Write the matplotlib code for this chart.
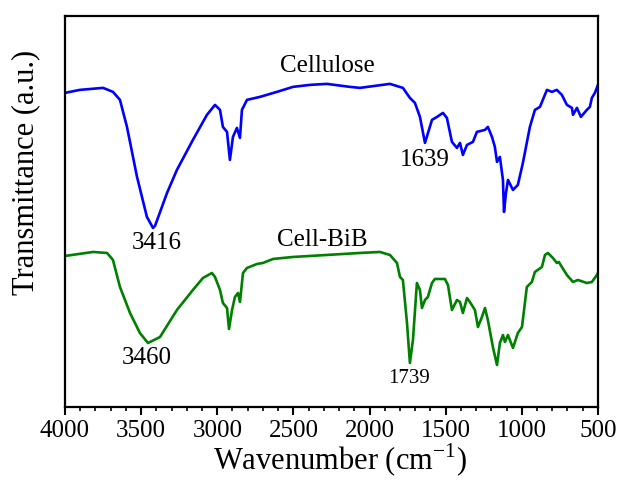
import matplotlib
matplotlib.use("Agg")
import matplotlib.pyplot as plt
import numpy as np

plt.rcParams["font.family"] = ["Liberation Serif", "DejaVu Serif"]
plt.rcParams["mathtext.fontset"] = "custom"
plt.rcParams["mathtext.rm"] = "Liberation Serif"

# FTIR spectra, transmittance in arbitrary units (offset for stacking)
cell_wn = [4000, 3902, 3750, 3685, 3639, 3593, 3527, 3462, 3422, 3409, 3330, 3265,
           3160, 3068, 3015, 2982, 2963, 2936, 2917, 2897, 2871, 2851, 2838, 2805,
           2720, 2608, 2503, 2391, 2280, 2129, 2063, 1866, 1781, 1735, 1702, 1669,
           1636, 1590, 1557, 1518, 1492, 1459, 1426, 1406, 1387, 1360, 1321, 1295,
           1242, 1223, 1196, 1177, 1163, 1144, 1124, 1117, 1104, 1091, 1058, 1026,
           993, 947, 914, 881, 835, 802, 770, 737, 704, 671, 664, 638, 612, 573,
           553, 540, 520, 500]
cell_t = [314, 317, 319, 315, 307, 280, 230, 190, 179, 181, 214, 237,
          267, 292, 302, 297, 280, 275, 247, 270, 279, 269, 297, 307,
          310, 315, 320, 322, 323, 320, 319, 323, 319, 309, 304, 290,
          264, 287, 290, 294, 289, 265, 259, 264, 252, 262, 265, 275,
          277, 280, 270, 260, 245, 250, 227, 195, 214, 227, 217, 222,
          244, 280, 297, 300, 317, 315, 317, 312, 302, 299, 292, 299, 290, 297,
          300, 309, 314, 322]

bib_wn = [4000, 3816, 3724, 3685, 3639, 3573, 3508, 3455, 3376, 3265, 3160, 3094,
          3035, 3015, 2982, 2963, 2936, 2923, 2903, 2884, 2864, 2851, 2831, 2805,
          2739, 2700, 2634, 2503, 2280, 2063, 1932, 1866, 1820, 1800, 1781, 1754,
          1735, 1715, 1689, 1669, 1656, 1636, 1617, 1590, 1571, 1505, 1485, 1459,
          1426, 1406, 1387, 1360, 1341, 1308, 1288, 1262, 1242, 1223, 1190, 1163,
          1144, 1124, 1111, 1091, 1058, 1026, 999, 967, 934, 914, 868, 848, 829,
          796, 770, 757, 737, 704, 664, 632, 573, 540, 507, 500]
bib_t = [151, 155, 154, 147, 120, 94, 74, 64, 70, 97, 117, 129,
         134, 130, 117, 104, 99, 78, 97, 110, 114, 105, 134, 139,
         143, 144, 148, 150, 152, 154, 155, 152, 144, 130, 127, 84,
         44, 67, 124, 117, 99, 107, 110, 124, 128, 128, 122, 97,
         107, 105, 94, 109, 105, 97, 80, 90, 99, 87, 60, 42,
         64, 72, 65, 72, 59, 74, 80, 120, 125, 135, 140, 152, 154,
         149, 144, 145, 140, 132, 125, 127, 124, 125, 132, 134]

fig = plt.figure(figsize=(6.19, 4.80), dpi=100)
ax = fig.add_axes([0.105, 0.152, 0.861, 0.815])

ax.plot(cell_wn, cell_t, color="#0000ff", lw=1.9)
ax.plot(bib_wn, bib_t, color="#008000", lw=1.9)

ax.set_xlim(4000, 500)
ax.set_ylim(0, 391)
ax.set_xticks(np.arange(4000, 499, -500))
ax.set_xticks(np.arange(4000, 499, -100), minor=True)
ax.set_yticks([])
ax.tick_params(axis="x", which="major", direction="out", length=6, width=1.5,
               labelsize=18, pad=3)
ax.tick_params(axis="x", which="minor", direction="out", length=3, width=1.2)
for spine in ax.spines.values():
    spine.set_linewidth(1.6)

ax.set_xlabel("Wavenumber (cm$^{-1}$)", fontsize=22, labelpad=0)
ax.set_ylabel("Transmittance (a.u.)", fontsize=22)
ax.xaxis.set_label_coords(0.516, -0.09)
ax.yaxis.set_label_coords(-0.047, 0.60)

ax.text(2280, 341, "Cellulose", fontsize=18, ha="center", va="center")
ax.text(2310, 167, "Cell-BiB", fontsize=18, ha="center", va="center")
ax.text(3400, 164, "3416", fontsize=18, ha="center", va="center")
ax.text(1639, 247, "1639", fontsize=18, ha="center", va="center")
ax.text(3460, 49, "3460", fontsize=18, ha="center", va="center")
ax.text(1739, 29, "1739", fontsize=15, ha="center", va="center")

fig.savefig("out.png", dpi=100)
